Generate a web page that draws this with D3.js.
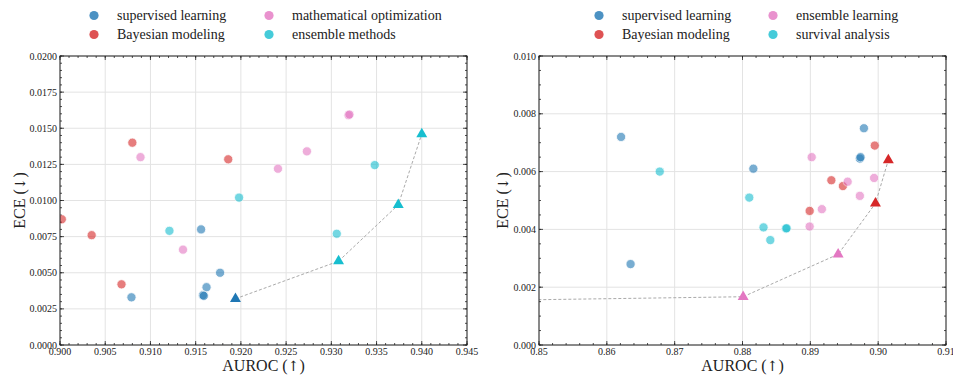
<!DOCTYPE html>
<meta charset="utf-8">
<head>
<title>AUROC vs ECE</title>
<script src="https://cdn.jsdelivr.net/npm/d3@7"></script>
<style>
  body { margin: 0; background: #fff; }
  svg text { font-family: "Liberation Serif", "DejaVu Serif", serif; fill: #222; }
  .arrow { font-family: "DejaVu Serif", serif; }
</style>
</head>
<body>
<div id="chart"></div>
<script>
// ---- data ----
var colors = ["#1f77b4", "#d62728", "#e377c2", "#17becf"];

var leftCategories = ["supervised learning", "Bayesian modeling", "mathematical optimization", "ensemble methods"];
// [auroc, ece, category]
var leftPoints = [
  [0.9156, 0.0080, 0], [0.9177, 0.0050, 0], [0.9162, 0.0040, 0], [0.9079, 0.0033, 0],
  [0.9158, 0.00345, 0], [0.9159, 0.0034, 0],
  [0.9080, 0.0140, 1], [0.9186, 0.01285, 1], [0.9002, 0.0087, 1], [0.9035, 0.0076, 1], [0.9068, 0.0042, 1],
  [0.9089, 0.0130, 2], [0.9319, 0.0159, 2], [0.9320, 0.01595, 2], [0.9273, 0.0134, 2], [0.9241, 0.0122, 2],
  [0.9136, 0.0066, 2],
  [0.9198, 0.0102, 3], [0.9121, 0.0079, 3], [0.9348, 0.01245, 3], [0.9306, 0.0077, 3]
];
var leftFront = [[0.9194, 0.0032, 0], [0.9308, 0.0058, 3], [0.9374, 0.0097, 3], [0.9400, 0.0146, 3]];

var rightCategories = ["supervised learning", "Bayesian modeling", "ensemble learning", "survival analysis"];
var rightPoints = [
  [0.8621, 0.0072, 0], [0.8635, 0.0028, 0], [0.8979, 0.0075, 0], [0.8973, 0.00645, 0], [0.8974, 0.0065, 0],
  [0.8816, 0.0061, 0],
  [0.8995, 0.0069, 1], [0.8931, 0.0057, 1], [0.8948, 0.0055, 1], [0.8899, 0.00464, 1],
  [0.8902, 0.0065, 2], [0.8955, 0.00565, 2], [0.8994, 0.00578, 2], [0.8973, 0.00516, 2], [0.8917, 0.0047, 2],
  [0.8899, 0.0041, 2],
  [0.8678, 0.0060, 3], [0.8810, 0.0051, 3], [0.8831, 0.00407, 3], [0.8864, 0.00403, 3], [0.8865, 0.00404, 3],
  [0.8841, 0.00363, 3]
];
var rightFront = [[0.8300, 0.0015, 2], [0.8801, 0.00167, 2], [0.8941, 0.00314, 2], [0.8996, 0.0049, 1], [0.9015, 0.0064, 1]];

var panels = [
  {cats: leftCategories, pts: leftPoints, front: leftFront,
   xDom: [0.900, 0.945], xMajor: 0.005, xMinor: 0.001, xFmt: ".3f",
   yDom: [0, 0.02], yMajor: 0.0025, yMinor: 0.0005, yFmt: ".4f",
   left: 60, right: 467, legX: 94, legCol: 175, yLab: 35},
  {cats: rightCategories, pts: rightPoints, front: rightFront,
   xDom: [0.85, 0.91], xMajor: 0.01, xMinor: 0.002, xFmt: ".2f",
   yDom: [0, 0.01], yMajor: 0.002, yMinor: 0.0005, yFmt: ".3f",
   left: 539, right: 946, legX: 599, legCol: 174, yLab: 31}
];

var W = 953, H = 375, yTop = 56, yBot = 345;

var svg = d3.select("#chart").append("svg").attr("width", W).attr("height", H);

function ticks(dom, step) {
  var out = [];
  var n = Math.round((dom[1] - dom[0]) / step);
  for (var i = 0; i <= n; i++) out.push(dom[0] + i * step);
  return out;
}

function label(sel, word, arrow) {
  sel.append("tspan").text(word + " (");
  sel.append("tspan").attr("class", "arrow").style("font-size", "14px").text(arrow);
  sel.append("tspan").text(")");
}

panels.forEach(function(p, pi) {
  var x = d3.scaleLinear().domain(p.xDom).range([p.left, p.right]);
  var y = d3.scaleLinear().domain(p.yDom).range([yBot, yTop]);
  var g = svg.append("g");

  var xM = ticks(p.xDom, p.xMajor), xm = ticks(p.xDom, p.xMinor);
  var yM = ticks(p.yDom, p.yMajor), ym = ticks(p.yDom, p.yMinor);

  // grid
  g.selectAll(".gx").data(xM).enter().append("line")
    .attr("x1", d => x(d)).attr("x2", d => x(d)).attr("y1", yTop).attr("y2", yBot)
    .attr("stroke", "#e3e3e3").attr("stroke-width", 1);
  g.selectAll(".gy").data(yM).enter().append("line")
    .attr("y1", d => y(d)).attr("y2", d => y(d)).attr("x1", p.left).attr("x2", p.right)
    .attr("stroke", "#e3e3e3").attr("stroke-width", 1);

  // inward ticks, all four sides
  var tk = g.append("g").attr("stroke", "#222").attr("stroke-width", 0.8);
  [[xm, 2], [xM, 4]].forEach(function(t) {
    tk.selectAll(null).data(t[0]).enter().append("line")
      .attr("x1", d => x(d)).attr("x2", d => x(d)).attr("y1", yBot).attr("y2", yBot - t[1]);
    tk.selectAll(null).data(t[0]).enter().append("line")
      .attr("x1", d => x(d)).attr("x2", d => x(d)).attr("y1", yTop).attr("y2", yTop + t[1]);
  });
  [[ym, 2], [yM, 4]].forEach(function(t) {
    tk.selectAll(null).data(t[0]).enter().append("line")
      .attr("y1", d => y(d)).attr("y2", d => y(d)).attr("x1", p.left).attr("x2", p.left + t[1]);
    tk.selectAll(null).data(t[0]).enter().append("line")
      .attr("y1", d => y(d)).attr("y2", d => y(d)).attr("x1", p.right).attr("x2", p.right - t[1]);
  });

  // tick labels
  g.selectAll(".xl").data(xM).enter().append("text")
    .attr("x", d => x(d)).attr("y", yBot + 10).attr("text-anchor", "middle")
    .style("font-size", "10px").text(d => d3.format(p.xFmt)(d));
  g.selectAll(".yl").data(yM).enter().append("text")
    .attr("x", p.left - 3).attr("y", d => y(d) + 3.5).attr("text-anchor", "end")
    .style("font-size", "10px").text(d => d3.format(p.yFmt)(d));

  // axis titles
  g.append("text").attr("x", (p.left + p.right) / 2).attr("y", 371)
    .attr("text-anchor", "middle").style("font-size", "16px")
    .call(label, "AUROC", "\u2191");
  g.append("text").attr("transform", "translate(" + (p.left - p.yLab) + "," + ((yTop + yBot) / 2) + ") rotate(-90)")
    .attr("text-anchor", "middle").style("font-size", "16px")
    .call(label, "ECE", "\u2193");

  // clip
  var cid = "clip" + pi;
  svg.append("clipPath").attr("id", cid).append("rect")
    .attr("x", p.left).attr("y", yTop).attr("width", p.right - p.left).attr("height", yBot - yTop);
  var plot = g.append("g").attr("clip-path", "url(#" + cid + ")");

  // dashed front line
  plot.append("path").datum(p.front)
    .attr("d", d3.line().x(d => x(d[0])).y(d => y(d[1])))
    .attr("fill", "none").attr("stroke", "#aaa").attr("stroke-width", 1).attr("stroke-dasharray", "3,2");

  // circles
  plot.selectAll(".pt").data(p.pts).enter().append("circle")
    .attr("cx", d => x(d[0])).attr("cy", d => y(d[1])).attr("r", 4.6)
    .attr("fill", d => colors[d[2]]).attr("stroke", "#fff").attr("stroke-width", 0.8)
    .attr("opacity", 0.6);

  // triangles
  plot.selectAll(".tri").data(p.front).enter().append("path")
    .attr("transform", d => "translate(" + x(d[0]) + "," + y(d[1]) + ")")
    .attr("d", d3.symbol().type(d3.symbolTriangle).size(52))
    .attr("fill", d => colors[d[2]]);

  // frame
  g.append("rect").attr("x", p.left).attr("y", yTop).attr("width", p.right - p.left).attr("height", yBot - yTop)
    .attr("fill", "none").attr("stroke", "#222").attr("stroke-width", 1);

  // legend
  var leg = g.append("g");
  p.cats.forEach(function(c, i) {
    var lx = p.legX + Math.floor(i / 2) * p.legCol, ly = 15.5 + (i % 2) * 19;
    leg.append("circle").attr("cx", lx).attr("cy", ly).attr("r", 4.6)
      .attr("fill", colors[i]).attr("opacity", 0.8);
    leg.append("text").attr("x", lx + 23).attr("y", ly + 4.5).style("font-size", "14px").text(c);
  });
});
</script>
</body>
